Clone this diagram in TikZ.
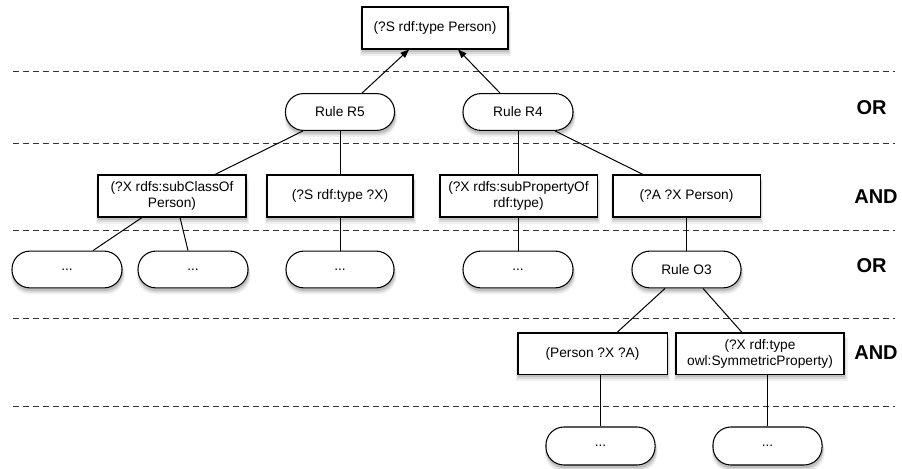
\documentclass[tikz,border=0pt]{standalone}
\usepackage{fontspec}
\setmainfont{Liberation Sans}
\usetikzlibrary{arrows.meta,calc,shadows}
\begin{document}
\begin{tikzpicture}[x=0.75pt,y=-0.75pt,
  every node/.style={font=\fontsize{10.3pt}{12pt}\selectfont, align=center, inner sep=0pt},
  shd/.style={
    general shadow={shadow xshift=0.5pt, shadow yshift=-4.2pt, shadow scale=1.035, fill=black, opacity=0.06},
    general shadow={shadow xshift=0.5pt, shadow yshift=-3.2pt, shadow scale=1.02, fill=black, opacity=0.09},
    general shadow={shadow xshift=0.4pt, shadow yshift=-2.2pt, shadow scale=1.008, fill=black, opacity=0.12}},
  goalbox/.style={draw=black, line width=0.8pt, fill=white, rectangle, shd, minimum height=31.5pt},
  rulebox/.style={draw=black, line width=0.8pt, fill=white, rectangle, rounded corners=13.5pt, shd, minimum height=27.6pt},
  level/.style={font=\bfseries\fontsize{15pt}{17pt}\selectfont},
  sep/.style={draw=black!80, line width=0.75pt, dash pattern=on 4.5pt off 3pt},
  conn/.style={draw=black, line width=0.75pt},
  arr/.style={conn, -{Triangle[length=6.5pt,width=5pt]}}
]
\useasboundingbox (0,0) rectangle (902,468);

% separators
\foreach \yy in {71,143,230,318,406} {
  \draw[sep] (13,\yy) -- (895,\yy);
}

% level labels
\node[level] (or1) at (871.5,108) {OR};
\node[level] (and1) at (876,197) {AND};
\node[level] (or2) at (871.5,266) {OR};
\node[level] (and2) at (876,353) {AND};

% nodes
\node[goalbox, minimum width=109.5pt] (top) at (435,28) {(?S rdf:type Person)};
\node[rulebox, minimum width=81.8pt] (r5) at (340,112) {Rule R5};
\node[rulebox, minimum width=82.5pt] (r4) at (518,112) {Rule R4};

\node[goalbox, minimum width=111pt] (b1) at (172,196) {(?X rdfs:subClassOf\\Person)};
\node[goalbox, minimum width=109.5pt] (b2) at (340,196) {(?S rdf:type ?X)};
\node[goalbox, minimum width=117.8pt] (b3) at (518.5,196) {(?X rdfs:subPropertyOf\\rdf:type)};
\node[goalbox, minimum width=110.3pt] (b4) at (686.5,196) {(?A ?X Person)};

\node[rulebox, minimum width=82.5pt] (d1) at (67,269.5) {...};
\node[rulebox, minimum width=82.5pt] (d2) at (193,269.5) {...};
\node[rulebox, minimum width=81pt] (d3) at (340,269.5) {...};
\node[rulebox, minimum width=82.5pt] (d4) at (518,269.5) {...};
\node[rulebox, minimum width=81.8pt] (o3) at (686.5,269.5) {Rule O3};

\node[goalbox, minimum width=111.8pt, minimum height=30.8pt] (p) at (592.5,353.5) {(Person ?X ?A)};
\node[goalbox, minimum width=126pt, minimum height=30.8pt] (s) at (760,353.5) {(?X rdf:type\\owl:SymmetricProperty)};

\node[rulebox, minimum width=81.8pt, minimum height=28.5pt] (d5) at (600.5,446) {...};
\node[rulebox, minimum width=81.8pt, minimum height=28.5pt] (d6) at (767.5,446) {...};

% connectors
\draw[arr] ($(r5.north)+(22,0)$) -- ($(top.south)+(-26,0)$);
\draw[arr] ($(r4.north)+(-18,0)$) -- ($(top.south)+(23,0)$);

\draw[conn] ($(r5.south)+(-37,0)$) -- ($(b1.north)+(43,0)$);
\draw[conn] (r5.south) -- (b2.north);
\draw[conn] (r4.south) -- (r4.south |- b3.north);
\draw[conn] ($(r4.south)+(37,0)$) -- ($(b4.north)+(-43.5,0)$);

\draw[conn] ($(b1.south)+(-30,0)$) -- ($(d1.north)+(26,0)$);
\draw[conn] ($(b1.south)+(8,0)$) -- ($(d2.north)+(-5,0)$);
\draw[conn] (b2.south) -- (d3.north);
\draw[conn] (d4.north |- b3.south) -- (d4.north);
\draw[conn] (b4.south) -- (o3.north);

\draw[conn] ($(o3.south)+(-21.5,0)$) -- ($(p.north)+(24.5,0)$);
\draw[conn] ($(o3.south)+(16.5,0)$) -- ($(s.north)+(-18,0)$);

\draw[conn] (d5.north |- p.south) -- (d5.north);
\draw[conn] (d6.north |- s.south) -- (d6.north);
\end{tikzpicture}
\end{document}
